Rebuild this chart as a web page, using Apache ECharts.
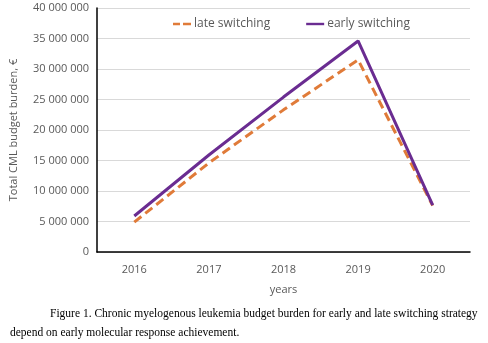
<!DOCTYPE html>
<html><head><meta charset="utf-8">
<script src="https://cdn.jsdelivr.net/npm/echarts@6/dist/echarts.min.js"></script>
<style>html,body{margin:0;padding:0;background:#fff}#c{width:488px;height:343px}</style>
</head><body><div id="c"></div>
<script>
const years = ['2016','2017','2018','2019','2020'];
const lateSwitching = [4900000, 14600000, 23300000, 31500000, 7600000];
const earlySwitching = [5900000, 15900000, 25400000, 34600000, 7700000];
const yTicks = [0, 5000000, 10000000, 15000000, 20000000, 25000000, 30000000, 35000000, 40000000];
const captionLine1 = 'Figure 1. Chronic myelogenous leukemia budget burden for early and late switching strategy';
const captionLine2 = 'depend on early molecular response achievement.';

const fmt = v => String(v).replace(/\B(?=(\d{3})+(?!\d))/g, ' ');
const chart = echarts.init(document.getElementById('c'));
chart.setOption({
  animation: false,
  grid: {left: 96, right: 18, top: 8, bottom: 91},
  legend: {
    top: 13, left: 168, itemGap: 36, itemWidth: 18, itemHeight: 10,
    textStyle: {color: '#595959', fontFamily: 'Open Sans', fontSize: 12, padding: [0,0,0,-2]},
    data: [
      {name: 'late switching', icon: 'path://M0,4H7V6.4H0ZM10,4H18V6.4H10Z'},
      {name: 'early switching', icon: 'path://M0,4H18V6.4H0Z'}
    ]
  },
  xAxis: {
    type: 'category', data: years, boundaryGap: true,
    name: 'years', nameLocation: 'middle', nameGap: 32,
    nameTextStyle: {color: '#595959', fontFamily: 'Open Sans', fontSize: 11},
    axisLine: {lineStyle: {color: '#000', width: 1.5}},
    axisTick: {show: false},
    axisLabel: {color: '#595959', fontFamily: 'Open Sans', fontSize: 11, margin: 12}
  },
  yAxis: {
    type: 'value', min: yTicks[0], max: yTicks[yTicks.length-1], interval: 5000000,
    name: 'Total CML budget burden, €', nameLocation: 'middle', nameGap: 78,
    nameTextStyle: {color: '#595959', fontFamily: 'Open Sans', fontSize: 11},
    axisLine: {show: true, lineStyle: {color: '#000', width: 1.5}},
    axisTick: {show: false},
    splitLine: {lineStyle: {color: '#d9d9d9'}},
    axisLabel: {color: '#595959', fontFamily: 'Open Sans', fontSize: 11, margin: 8, formatter: fmt}
  },
  series: [
    {name: 'late switching', type: 'line', data: lateSwitching, symbol: 'none',
     itemStyle: {color: '#E07B39'},
     lineStyle: {color: '#E07B39', width: 3, type: [9, 5]}},
    {name: 'early switching', type: 'line', data: earlySwitching, symbol: 'none',
     itemStyle: {color: '#6A2C91'},
     lineStyle: {color: '#6A2C91', width: 3}}
  ],
  graphic: [
    {type: 'text', left: 50, top: 308, style: {text: captionLine1, font: '11.5px "Liberation Serif"', fill: '#000'}},
    {type: 'text', left: 10, top: 327, style: {text: captionLine2, font: '11.5px "Liberation Serif"', fill: '#000'}}
  ]
});
</script></body></html>
